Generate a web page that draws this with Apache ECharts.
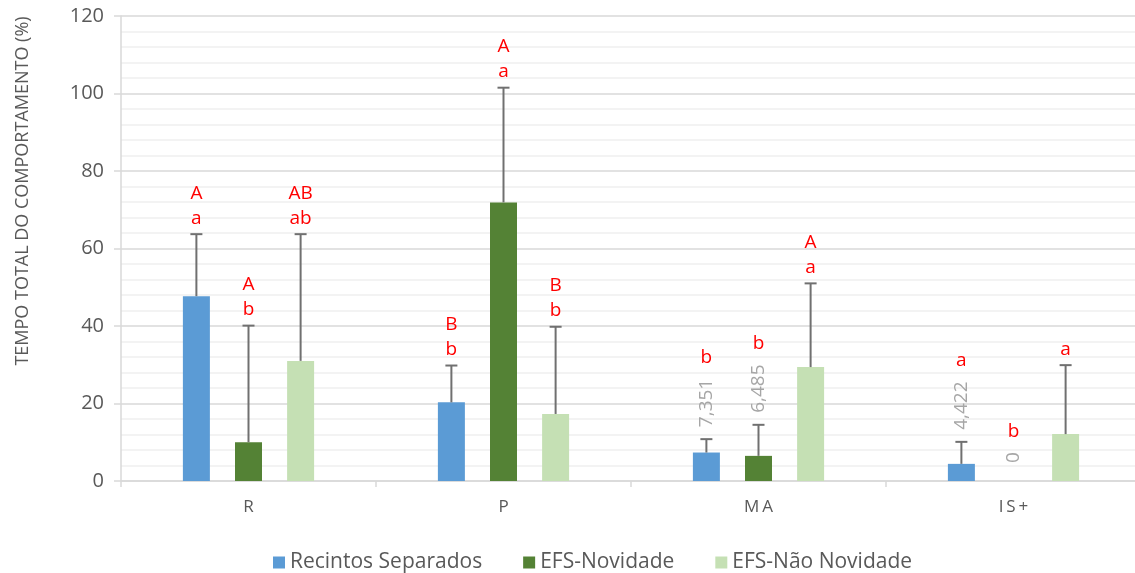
<!DOCTYPE html>
<html>
<head>
<meta charset="utf-8">
<script src="https://cdn.jsdelivr.net/npm/echarts@6/dist/echarts.min.js"></script>
<style>
  html, body { margin: 0; padding: 0; background: #fff; }
  #chart { width: 1135px; height: 573px; }
</style>
</head>
<body>
<div id="chart"></div>
<script>
// Behaviour categories
const categories = ['R', 'P', 'MA', 'IS+'];
const seriesNames = ['Recintos Separados', 'EFS-Novidade', 'EFS-Não Novidade'];

// Mean total time of each behaviour (%)
const recintos = [47.7, 20.3, 7.351, 4.422];
const efsNovidade = [10.0, 71.9, 6.485, 0];
const efsNaoNovidade = [31.0, 17.3, 29.4, 12.1];

// Top of each error bar (mean + standard deviation)
const recintosTop = [63.7, 29.8, 10.8, 10.1];
const efsNovidadeTop = [40.1, 101.5, 14.5, 0];
const efsNaoNovidadeTop = [63.7, 39.8, 51.0, 29.9];

// Significance letters (upper case / lower case groups)
const recintosUpper = ['A', 'B', '', ''];
const recintosLower = ['a', 'b', 'b', 'a'];
const efsNovidadeUpper = ['A', 'A', '', ''];
const efsNovidadeLower = ['b', 'a', 'b', 'b'];
const efsNaoNovidadeUpper = ['AB', 'B', 'A', ''];
const efsNaoNovidadeLower = ['ab', 'b', 'a', 'a'];

// Bars that carry their numeric value as a label
const recintosValueShown = [false, false, true, true];
const efsNovidadeValueShown = [false, false, true, true];
const efsNaoNovidadeValueShown = [false, false, false, false];

const groups = [
  { name: seriesNames[0], values: recintos, tops: recintosTop, upper: recintosUpper, lower: recintosLower, shown: recintosValueShown, color: '#5b9bd5' },
  { name: seriesNames[1], values: efsNovidade, tops: efsNovidadeTop, upper: efsNovidadeUpper, lower: efsNovidadeLower, shown: efsNovidadeValueShown, color: '#548235' },
  { name: seriesNames[2], values: efsNaoNovidade, tops: efsNaoNovidadeTop, upper: efsNaoNovidadeUpper, lower: efsNaoNovidadeLower, shown: efsNaoNovidadeValueShown, color: '#c5e0b4' }
];

const BAR_WIDTH = 27;
const BAR_GAP = 0.93;
const FONT = '"Open Sans", "Noto Sans", sans-serif';
const VALUE_FONT = '19px ' + FONT;
const LETTER_FONT = '19px ' + FONT;

const measureCtx = document.createElement('canvas').getContext('2d');
function textWidth(text, font) {
  measureCtx.font = font;
  return measureCtx.measureText(text).width;
}

function formatValue(v) {
  return v === 0 ? '0' : v.toFixed(3).replace('.', ',');
}

// Error bars, significance letters and value labels for one bar series
function makeOverlay(gi) {
  const g = groups[gi];
  const offset = (gi - 1) * BAR_WIDTH * (1 + BAR_GAP);
  return {
    type: 'custom',
    name: g.name + ' SD',
    silent: true,
    z: 5,
    data: categories.map((c, i) => [i, Math.max(g.tops[i], g.values[i])]),
    renderItem: function (params, api) {
      const i = params.dataIndex;
      const base = api.coord([i, g.values[i]]);
      const tip = api.coord([i, Math.max(g.tops[i], g.values[i])]);
      const x = base[0] + offset;
      const children = [];
      if (g.tops[i] > g.values[i]) {
        children.push({
          type: 'line',
          shape: { x1: x, y1: base[1], x2: x, y2: tip[1] },
          style: { stroke: '#707070', lineWidth: 2 }
        });
        children.push({
          type: 'line',
          shape: { x1: x - 6, y1: tip[1], x2: x + 6, y2: tip[1] },
          style: { stroke: '#707070', lineWidth: 2 }
        });
      }
      let lowerY;
      if (g.shown[i]) {
        const txt = formatValue(g.values[i]);
        const bottom = tip[1] - (g.values[i] === 0 ? 18 : 12);
        const w = textWidth(txt, VALUE_FONT);
        children.push({
          type: 'text',
          x: x, y: bottom,
          rotation: Math.PI / 2,
          style: { text: txt, x: 0, y: 0, align: 'left', verticalAlign: 'middle', font: VALUE_FONT, fill: '#a6a6a6' }
        });
        lowerY = bottom - w - 21;
      } else {
        lowerY = tip[1] - 16;
      }
      if (g.lower[i]) {
        children.push({
          type: 'text',
          style: { text: g.lower[i], x: x, y: lowerY, align: 'center', verticalAlign: 'middle', font: LETTER_FONT, fill: '#ff0000' }
        });
      }
      if (g.upper[i]) {
        children.push({
          type: 'text',
          style: { text: g.upper[i], x: x, y: lowerY - 25, align: 'center', verticalAlign: 'middle', font: LETTER_FONT, fill: '#ff0000' }
        });
      }
      return { type: 'group', children: children };
    }
  };
}

const chart = echarts.init(document.getElementById('chart'), null, { renderer: 'canvas' });

const option = {
  animation: false,
  backgroundColor: '#ffffff',
  textStyle: { fontFamily: FONT },
  grid: { left: 121, width: 1020, top: 16, height: 465, containLabel: false, outerBoundsMode: 'none' },
  legend: {
    top: 547,
    left: 268,
    itemWidth: 12,
    itemHeight: 12,
    itemGap: 41,
    icon: 'rect',
    data: seriesNames,
    textStyle: { color: '#595959', fontSize: 21, fontFamily: FONT }
  },
  graphic: [{
    type: 'text',
    x: 23, y: 191,
    rotation: Math.PI / 2,
    style: { text: 'TEMPO TOTAL DO COMPORTAMENTO (%)', align: 'center', verticalAlign: 'middle', font: '18px ' + FONT, fill: '#595959' }
  }],
  xAxis: {
    type: 'category',
    data: categories,
    axisLine: { lineStyle: { color: '#d9d9d9', width: 1.5 } },
    axisTick: { show: true, length: 6, lineStyle: { color: '#d9d9d9', width: 1.5 } },
    axisLabel: {
      color: '#595959', fontSize: 17, margin: 18,
      formatter: v => v.split('').join('\u2009')
    }
  },
  yAxis: {
    type: 'value',
    min: 0, max: 120, interval: 20,
    axisLine: { show: true, lineStyle: { color: '#d9d9d9', width: 1.5 } },
    axisTick: { show: true, length: 7, lineStyle: { color: '#d9d9d9', width: 1.5 } },
    axisLabel: { color: '#595959', fontSize: 20, margin: 17 },
    splitLine: { show: true, lineStyle: { color: '#d9d9d9', width: 1.5 } },
    minorTick: { show: false, splitNumber: 5 },
    minorSplitLine: { show: true, lineStyle: { color: '#f0f0f0', width: 1.5 } }
  },
  series: groups.map(g => ({
    type: 'bar',
    name: g.name,
    data: g.values,
    barWidth: BAR_WIDTH,
    barGap: (BAR_GAP * 100) + '%',
    itemStyle: { color: g.color }
  })).concat(groups.map((g, gi) => makeOverlay(gi)))
};

chart.setOption(option);
</script>
</body>
</html>
